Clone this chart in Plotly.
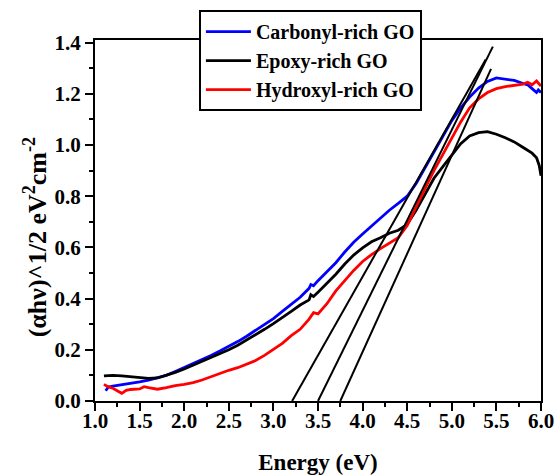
import plotly.graph_objects as go

# ---- data ----
carbonyl_x = [1.12, 1.15, 1.2, 1.3, 1.4, 1.5, 1.6, 1.7, 1.8, 1.9, 2.0, 2.1, 2.2, 2.3, 2.4, 2.5, 2.6,
              2.7, 2.8, 2.9, 3.0, 3.1, 3.2, 3.3, 3.4, 3.42, 3.45, 3.5, 3.6, 3.7, 3.8, 3.9, 4.0, 4.1,
              4.2, 4.3, 4.4, 4.5, 4.6, 4.7, 4.8, 4.9, 5.0, 5.1, 5.2, 5.3, 5.4, 5.5, 5.6, 5.7, 5.8,
              5.85, 5.9, 5.95, 5.97, 6.0]
carbonyl_y = [0.040, 0.055, 0.058, 0.063, 0.069, 0.075, 0.082, 0.090, 0.100, 0.115, 0.130, 0.145,
              0.160, 0.178, 0.195, 0.213, 0.232, 0.253, 0.275, 0.298, 0.322, 0.350, 0.378, 0.405,
              0.440, 0.455, 0.450, 0.470, 0.505, 0.540, 0.582, 0.620, 0.652, 0.683, 0.712, 0.745,
              0.772, 0.800, 0.850, 0.910, 0.975, 1.035, 1.095, 1.145, 1.187, 1.222, 1.248, 1.262,
              1.258, 1.252, 1.240, 1.235, 1.220, 1.205, 1.215, 1.205]

epoxy_x = [1.1, 1.2, 1.3, 1.4, 1.5, 1.6, 1.7, 1.8, 1.9, 2.0, 2.1, 2.2, 2.3, 2.4, 2.5, 2.6, 2.7, 2.8,
           2.9, 3.0, 3.1, 3.2, 3.3, 3.4, 3.42, 3.45, 3.5, 3.6, 3.7, 3.8, 3.9, 4.0, 4.1, 4.2, 4.3,
           4.4, 4.5, 4.6, 4.7, 4.8, 4.9, 5.0, 5.1, 5.2, 5.3, 5.4, 5.5, 5.6, 5.7, 5.8, 5.9, 5.95,
           5.98, 6.0]
epoxy_y = [0.098, 0.100, 0.098, 0.095, 0.090, 0.088, 0.090, 0.100, 0.112, 0.125, 0.140, 0.153,
           0.168, 0.183, 0.200, 0.218, 0.238, 0.260, 0.280, 0.302, 0.325, 0.350, 0.375, 0.395,
           0.415, 0.408, 0.425, 0.460, 0.495, 0.535, 0.570, 0.598, 0.622, 0.638, 0.655, 0.667,
           0.690, 0.745, 0.810, 0.870, 0.915, 0.960, 1.005, 1.035, 1.048, 1.052, 1.042, 1.028,
           1.012, 0.990, 0.968, 0.950, 0.920, 0.880]

hydroxyl_x = [1.1, 1.15, 1.2, 1.25, 1.3, 1.35, 1.4, 1.5, 1.55, 1.6, 1.7, 1.8, 1.9, 2.0, 2.1, 2.2,
              2.3, 2.4, 2.5, 2.6, 2.7, 2.8, 2.9, 3.0, 3.1, 3.2, 3.3, 3.4, 3.45, 3.5, 3.6, 3.7, 3.8,
              3.9, 4.0, 4.1, 4.2, 4.3, 4.4, 4.5, 4.6, 4.7, 4.8, 4.9, 5.0, 5.1, 5.2, 5.3, 5.4, 5.5,
              5.6, 5.7, 5.8, 5.85, 5.9, 5.95, 6.0]
hydroxyl_y = [0.065, 0.055, 0.050, 0.040, 0.030, 0.042, 0.045, 0.047, 0.056, 0.052, 0.046, 0.052,
              0.060, 0.065, 0.072, 0.082, 0.095, 0.110, 0.120, 0.130, 0.143, 0.158, 0.178, 0.200,
              0.225, 0.255, 0.280, 0.320, 0.345, 0.340, 0.380, 0.430, 0.470, 0.510, 0.545, 0.572,
              0.595, 0.615, 0.638, 0.685, 0.760, 0.830, 0.900, 0.965, 1.030, 1.090, 1.145, 1.180,
              1.205, 1.220, 1.228, 1.232, 1.238, 1.245, 1.235, 1.250, 1.230]

# tangent (Tauc) lines: [start, end] points
tangent_x = [[3.21, 5.38], [3.50, 5.46], [3.75, 5.44]]
tangent_y = [[0.0, 1.334], [0.0, 1.384], [0.0, 1.297]]

names = ["Carbonyl-rich GO", "Epoxy-rich GO", "Hydroxyl-rich GO"]
colors = ["#0000ff", "#000000", "#ff0000"]

font_family = "Liberation Serif, Times New Roman, serif"

fig = go.Figure()
series = [(carbonyl_x, carbonyl_y), (epoxy_x, epoxy_y), (hydroxyl_x, hydroxyl_y)]
for (xs, ys), n, c in zip(series, names, colors):
    fig.add_trace(go.Scatter(x=xs, y=ys, mode="lines", name=n,
                             line=dict(color=c, width=2.8)))
for tx, ty in zip(tangent_x, tangent_y):
    fig.add_trace(go.Scatter(x=tx, y=ty, mode="lines", showlegend=False,
                             line=dict(color="black", width=2)))

axis_common = dict(
    showline=True, linecolor="black", linewidth=2, mirror=True,
    ticks="outside", ticklen=8, tickwidth=2, tickcolor="black",
    showgrid=False, zeroline=False, automargin=False,
    tickfont=dict(family=font_family, size=21, color="black", weight="bold"),
)

fig.update_layout(
    width=556, height=476,
    margin=dict(l=95, r=15, t=40, b=75, autoexpand=False),
    paper_bgcolor="white", plot_bgcolor="white",
    font=dict(family=font_family, color="black"),
    xaxis=dict(range=[1.0, 6.0], dtick=0.5, tick0=1.0, tickformat=".1f",
               ticklabelstandoff=-8,
               minor=dict(dtick=0.25, ticks="outside", ticklen=4, tickwidth=2, tickcolor="black"),
               title=dict(text="Energy (eV)", standoff=22,
                          font=dict(family=font_family, size=23, weight="bold")),
               **axis_common),
    yaxis=dict(range=[0.0, 1.41], dtick=0.2, tick0=0.0, tickformat=".1f",
               minor=dict(dtick=0.1, ticks="outside", ticklen=4, tickwidth=2, tickcolor="black"),
               **axis_common),
    legend=dict(x=0.233, y=1.083, xanchor="left", yanchor="top",
                bgcolor="white", bordercolor="black", borderwidth=2,
                itemwidth=45,
                font=dict(family=font_family, size=20, color="black", weight="bold"),
                tracegroupgap=0),
    showlegend=True,
)

fig.add_annotation(
    text="(\u03b1h\u03bd)^1/2 eV<sup>2</sup>cm<sup>-2</sup>",
    xref="paper", yref="paper", x=-0.134, y=0.454,
    xanchor="center", yanchor="middle", textangle=-90, showarrow=False,
    font=dict(family=font_family, size=26, color="black", weight="bold"),
)

fig.write_html("out.html", config={"displayModeBar": False},
               post_script="document.body.style.margin='0';")
